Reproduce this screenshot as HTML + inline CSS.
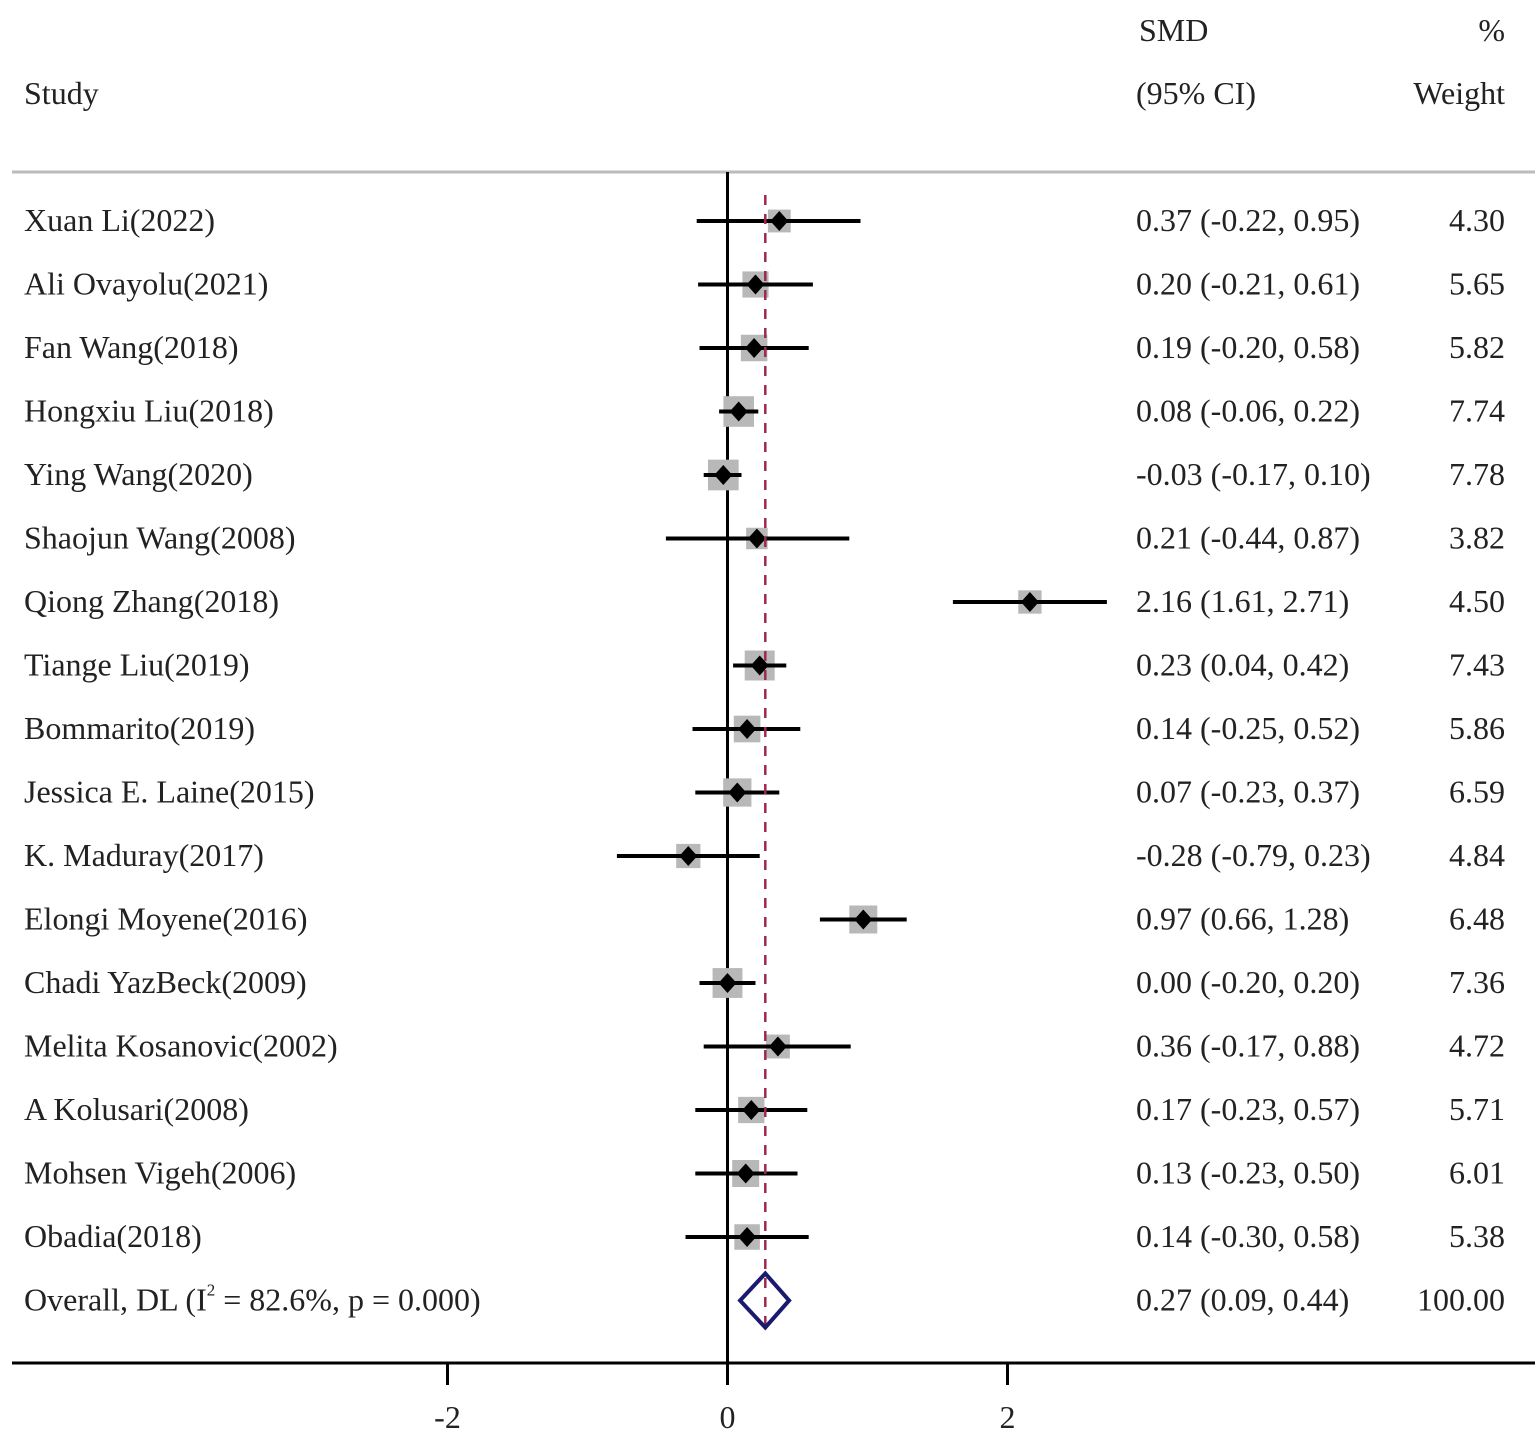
<!DOCTYPE html>
<html><head><meta charset="utf-8"><style>
html,body{margin:0;padding:0;background:#fff;}
svg{display:block;font-family:"Liberation Serif",serif;}
</style></head><body>
<svg id="chart" width="1535" height="1444" xmlns="http://www.w3.org/2000/svg">
<g id="hdr" font-size="32" fill="#222">
<text x="24" y="104">Study</text>
<text x="1139" y="41">SMD</text>
<text x="1136" y="104">(95% CI)</text>
<text x="1505" y="41" text-anchor="end">%</text>
<text x="1505" y="104" text-anchor="end">Weight</text>
</g>
<line x1="12" y1="172" x2="1535" y2="172" stroke="#bbb" stroke-width="3"/>
<g id="marks"></g>
</svg>
<script>
const studies=["Xuan Li(2022)","Ali Ovayolu(2021)","Fan Wang(2018)","Hongxiu Liu(2018)","Ying Wang(2020)","Shaojun Wang(2008)","Qiong Zhang(2018)","Tiange Liu(2019)","Bommarito(2019)","Jessica E. Laine(2015)","K. Maduray(2017)","Elongi Moyene(2016)","Chadi YazBeck(2009)","Melita Kosanovic(2002)","A Kolusari(2008)","Mohsen Vigeh(2006)","Obadia(2018)"];
const smd=[0.37,0.20,0.19,0.08,-0.03,0.21,2.16,0.23,0.14,0.07,-0.28,0.97,0.00,0.36,0.17,0.13,0.14];
const lo=[-0.22,-0.21,-0.20,-0.06,-0.17,-0.44,1.61,0.04,-0.25,-0.23,-0.79,0.66,-0.20,-0.17,-0.23,-0.23,-0.30];
const hi=[0.95,0.61,0.58,0.22,0.10,0.87,2.71,0.42,0.52,0.37,0.23,1.28,0.20,0.88,0.57,0.50,0.58];
const weights=["4.30","5.65","5.82","7.74","7.78","3.82","4.50","7.43","5.86","6.59","4.84","6.48","7.36","4.72","5.71","6.01","5.38"];
const overall=[0.27,0.09,0.44];
const xTicks=[-2,0,2];
const NS="http://www.w3.org/2000/svg";
const X=v=>727.5+v*140;
const Y=i=>221+i*63.5;
const g=document.getElementById('marks');
function mk(t,a,p){const e=document.createElementNS(NS,t);for(const k in a)e.setAttribute(k,a[k]);(p||g).appendChild(e);return e;}
const f=v=>v.toFixed(2);
let e=mk('line',{x1:X(0),y1:172,x2:X(0),y2:1362,stroke:'#000','stroke-width':3});


studies.forEach((s,i)=>{
 const y=Y(i);
 const side=11*Math.sqrt(parseFloat(weights[i]));
 let r=mk('rect',{x:X(smd[i])-side/2,y:y-side/2,width:side,height:side,fill:'#b8b8b8'});
 
 
 let l=mk('line',{x1:X(lo[i]),y1:y,x2:X(hi[i]),y2:y,stroke:'#000','stroke-width':4});
 
 
 const cx=X(smd[i]);
 let d=mk('polygon',{points:`${cx-9},${y} ${cx},${y-10} ${cx+9},${y} ${cx},${y+10}`,fill:'#000'});
 
 
 let t=mk('text',{x:24,y:y+10,'font-size':32,fill:'#222'});t.textContent=s;
 
 
 let c=mk('text',{x:1136,y:y+10,'font-size':32,fill:'#222'});c.textContent=`${f(smd[i])} (${f(lo[i])}, ${f(hi[i])})`;
 
 
 let w=mk('text',{x:1505,y:y+10,'font-size':32,fill:'#222','text-anchor':'end'});w.textContent=weights[i];
 
 
});
let dl=mk('line',{x1:X(overall[0]),y1:195,x2:X(overall[0]),y2:1330,stroke:'#9b2a4a','stroke-width':2.5,'stroke-dasharray':'10 9'});


const oy=Y(17);
let od=mk('polygon',{points:`${X(overall[1])},${oy} ${X(overall[0])},${oy-27} ${X(overall[2])},${oy} ${X(overall[0])},${oy+27}`,fill:'none',stroke:'#1a1a6e','stroke-width':4});


let ot=mk('text',{x:24,y:oy+10,'font-size':32,fill:'#222'});
ot.innerHTML='Overall, DL (I<tspan font-size="17" dy="-15">2</tspan><tspan dy="15"> = 82.6%, p = 0.000)</tspan>';


let oc=mk('text',{x:1136,y:oy+10,'font-size':32,fill:'#222'});oc.textContent=`${f(overall[0])} (${f(overall[1])}, ${f(overall[2])})`;


let ow=mk('text',{x:1505,y:oy+10,'font-size':32,fill:'#222','text-anchor':'end'});ow.textContent='100.00';


let ax=mk('line',{x1:12,y1:1363,x2:1535,y2:1363,stroke:'#000','stroke-width':3});


xTicks.forEach(v=>{
 let tk=mk('line',{x1:X(v),y1:1363,x2:X(v),y2:1385,stroke:'#000','stroke-width':3});
 
 
 let tl=mk('text',{x:X(v),y:1428,'font-size':32,fill:'#222','text-anchor':'middle'});tl.textContent=v;
 
 
});
</script>
</body></html>
